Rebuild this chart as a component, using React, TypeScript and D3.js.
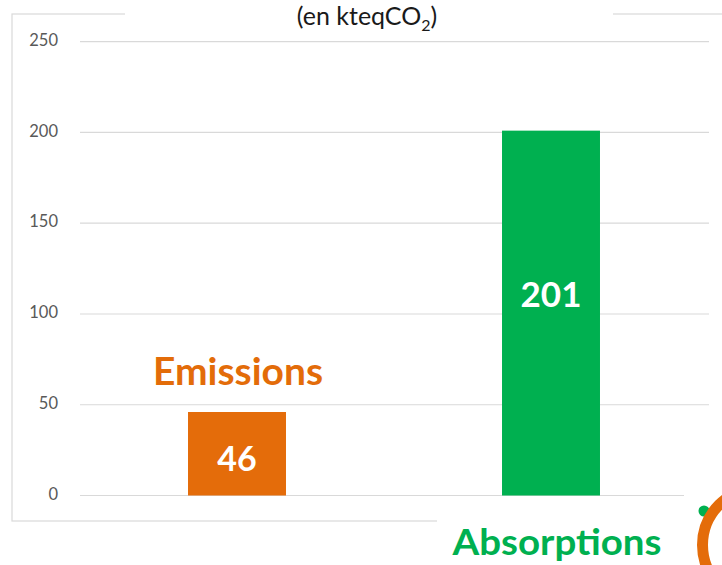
import React from "react";
import * as d3 from "d3";

const WIDTH = 722;
const HEIGHT = 565;

// data
const categories = ["Emissions", "Absorptions"];
const values = [46, 201];
const barColors = ["#E46C0A", "#00B050"];
const yTicks = [0, 50, 100, 150, 200, 250];

const FONT = "Lato, 'Open Sans', sans-serif";

const App = () => {
  // y scale: 0 at the base line, 250 at the top grid line
  const yScale = d3.scaleLinear().domain([0, 250]).range([495.5, 41.7]);

  // x scale: two bands across the plot area
  const xScale = d3
    .scaleBand()
    .domain(categories)
    .range([80, 708])
    .paddingInner(0.688)
    .paddingOuter(0.344);

  const grid = yTicks.map((t) => (
    <g key={t}>
      <line
        x1={80}
        x2={t === 0 ? 684 : 709}
        y1={yScale(t)}
        y2={yScale(t)}
        stroke="#D9D9D9"
        strokeWidth={1.2}
      />
      <text
        x={58}
        y={yScale(t)}
        textAnchor="end"
        dominantBaseline="middle"
        fontSize={16.5}
        fill="#595959"
        fontFamily={FONT}
      >
        {t}
      </text>
    </g>
  ));

  const bars = categories.map((c, i) => {
    const x = xScale(c) ?? 0;
    const y = yScale(values[i]);
    return (
      <rect
        key={c}
        x={x}
        y={y}
        width={xScale.bandwidth()}
        height={yScale(0) - y}
        fill={barColors[i]}
      />
    );
  });

  // value labels inside the bars
  const emX = (xScale("Emissions") ?? 0) + xScale.bandwidth() / 2;
  const abX = (xScale("Absorptions") ?? 0) + xScale.bandwidth() / 2;

  return (
    <svg
      width={WIDTH}
      height={HEIGHT}
      style={{ position: "absolute", left: 0, top: 0 }}
    >
      <rect x={0} y={0} width={WIDTH} height={HEIGHT} fill="white" />
      {/* chart frame */}
      <rect
        x={12}
        y={14}
        width={740}
        height={507}
        fill="none"
        stroke="#D9D9D9"
        strokeWidth={1.2}
      />
      {/* title box */}
      <rect x={125} y={0} width={488} height={24} fill="white" />
      <text
        x={367}
        y={25}
        textAnchor="middle"
        fontSize={25}
        fill="#1a1a1a"
        fontFamily={FONT}
      >
        (en kteqCO
        <tspan fontSize={16} dy={6}>
          2
        </tspan>
        <tspan dy={-6}>)</tspan>
      </text>

      {grid}
      {bars}

      <text
        x={emX}
        y={462}
        textAnchor="middle"
        dominantBaseline="middle"
        fontSize={34}
        fontWeight="bold"
        fill="white"
        fontFamily={FONT}
      >
        {values[0]}
      </text>
      <text
        x={abX}
        y={298}
        textAnchor="middle"
        dominantBaseline="middle"
        fontSize={35}
        fontWeight="bold"
        fill="white"
        fontFamily={FONT}
      >
        {values[1]}
      </text>

      {/* Emissions label */}
      <rect x={137} y={338} width={213} height={66} fill="white" opacity={0.85} />
      <text
        x={238}
        y={385}
        textAnchor="middle"
        fontSize={38}
        fontWeight="bold"
        fill="#E36C09"
        fontFamily={FONT}
        textLength={170}
        lengthAdjust="spacingAndGlyphs"
      >
        {categories[0]}
      </text>

      {/* Absorptions label */}
      <rect x={437} y={505} width={285} height={60} fill="white" />
      <text
        x={557}
        y={555}
        textAnchor="middle"
        fontSize={37}
        fontWeight="bold"
        fill="#00B050"
        fontFamily={FONT}
        textLength={209}
        lengthAdjust="spacingAndGlyphs"
      >
        {categories[1]}
      </text>

      {/* cropped logo at the corner */}
      <circle cx={704} cy={511} r={5.5} fill="#00B050" />
      <circle
        cx={759.5}
        cy={545}
        r={57}
        fill="none"
        stroke="#E46C0A"
        strokeWidth={11}
      />
    </svg>
  );
};

export default App;
